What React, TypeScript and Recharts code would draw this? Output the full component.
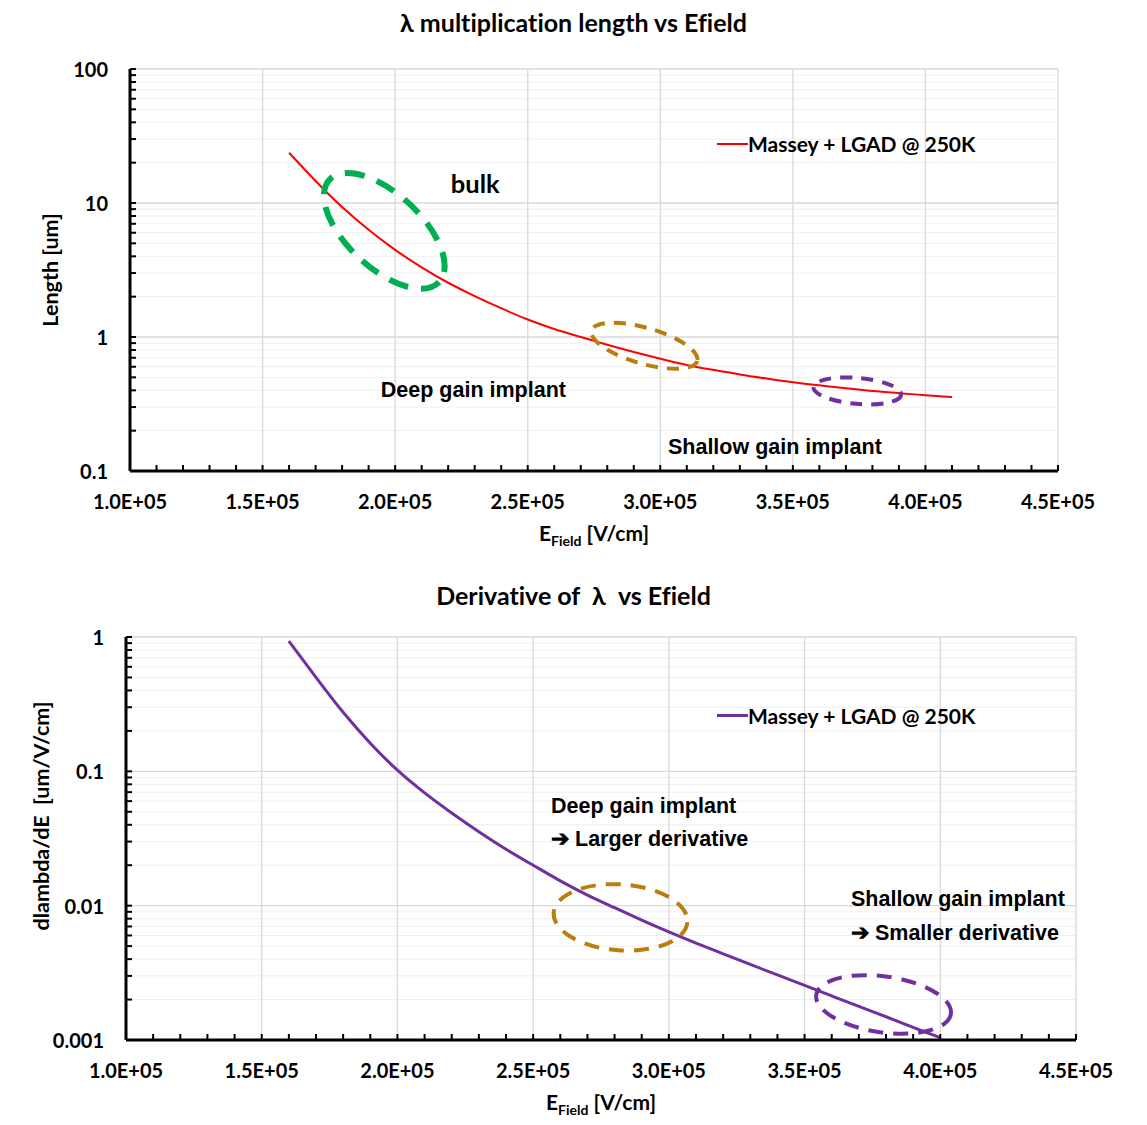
import React from "react";
import {
  LineChart,
  Line,
  XAxis,
  YAxis,
  ReferenceLine,
  ReferenceDot,
  Legend,
  Label
} from "recharts";

// E field [V/cm]
const fieldLength = [
  160000, 170000, 180000, 190000, 200000, 210000, 220000, 230000, 240000,
  250000, 260000, 270000, 280000, 290000, 300000, 310000, 320000, 330000,
  340000, 350000, 360000, 370000, 380000, 390000, 400000, 410000
];
// multiplication length [um]
const lengthUm = [
  23.7, 14.6, 9.33, 6.31, 4.47, 3.31, 2.54, 2.02, 1.64, 1.35, 1.148, 1.0,
  0.875, 0.773, 0.689, 0.619, 0.568, 0.525, 0.49, 0.46, 0.436, 0.414, 0.395,
  0.381, 0.368, 0.356
];

const fieldDeriv = [
  160000, 170000, 180000, 190000, 200000, 210000, 220000, 230000, 240000,
  250000, 260000, 270000, 280000, 290000, 300000, 310000, 320000, 330000,
  340000, 350000, 360000, 370000, 380000, 390000, 400000
];
// dlambda/dE [um/V/cm]
const derivative = [
  0.933, 0.501, 0.275, 0.162, 0.102, 0.0692, 0.049, 0.0355, 0.0263, 0.02,
  0.0153, 0.012, 0.00966, 0.0078, 0.00637, 0.00526, 0.00438, 0.00365,
  0.00305, 0.00255, 0.00213, 0.00178, 0.00149, 0.00124, 0.00104
];

const xMajorTicks = [100000, 150000, 200000, 250000, 300000, 350000, 400000, 450000];
const topDecades = [0.1, 1, 10, 100];
const bottomDecades = [0.001, 0.01, 0.1, 1];
const seriesName = "Massey + LGAD @ 250K";

const FONT = "Lato, 'Open Sans', sans-serif";
const NOTE_FONT = "'Liberation Sans', Arial, sans-serif";

const xAllTicks: number[] = [];
for (let v = 100000; v <= 450000; v += 10000) xAllTicks.push(v);

function minorValues(decades: number[]) {
  const out: number[] = [];
  decades.slice(0, -1).forEach((d) => {
    for (let k = 2; k <= 9; k++) out.push(+(k * d).toPrecision(3));
  });
  return out;
}

const topData = fieldLength.map((e, i) => ({ e, v: lengthUm[i] }));
const bottomData = fieldDeriv.map((e, i) => ({ e, v: derivative[i] }));

const isMajorX = (v: number) => v % 50000 === 0;
const isDecade = (v: number) => Math.abs(Math.log10(v) - Math.round(Math.log10(v))) < 1e-6;

const fmtE = (v: number) => (v / 100000).toFixed(1) + "E+05";

const XTick = (props: any) => {
  const { x, y, payload } = props;
  const v = payload.value;
  return (
    <g>
      <line x1={x} x2={x} y1={y} y2={y - 6} stroke="#000" strokeWidth={2} />
      {isMajorX(v) && (
        <text x={x} y={y + 30} textAnchor="middle" dominantBaseline="central"
          fontFamily={FONT} fontWeight={700} fontSize={20} fill="#000">
          {fmtE(v)}
        </text>
      )}
    </g>
  );
};

const YTick = (props: any) => {
  const { x, y, payload } = props;
  const v = payload.value;
  return (
    <g>
      <line x1={x} x2={x + 6} y1={y} y2={y} stroke="#000" strokeWidth={2} />
      {isDecade(v) && (
        <text x={x - 22} y={y} textAnchor="end" dominantBaseline="central"
          fontFamily={FONT} fontWeight={700} fontSize={20} fill="#000">
          {String(v)}
        </text>
      )}
    </g>
  );
};

const FieldLabel = (props: any) => {
  const { viewBox } = props;
  const cx = viewBox.x + viewBox.width / 2;
  const y = viewBox.y + 70;
  return (
    <text x={cx} y={y} textAnchor="middle" fontFamily={FONT} fontWeight={700} fontSize={21} fill="#000">
      E<tspan fontSize={14} dy={5}>Field</tspan>
      <tspan dy={-5}> [V/cm]</tspan>
    </text>
  );
};

const YLabel = ({ text, x, y }: { text: string; x: number; y: number }) => (
  <text x={x} y={y} transform={`rotate(-90 ${x} ${y})`} textAnchor="middle" dominantBaseline="central"
    fontFamily={FONT} fontWeight={700} fontSize={21.5} fill="#000" style={{ whiteSpace: "pre" }}>
    {text}
  </text>
);

const LegendBox = (props: any) => {
  const item = props.payload && props.payload[0];
  if (!item) return null;
  return (
    <div style={{ display: "flex", alignItems: "center", fontFamily: FONT, fontWeight: 700, fontSize: 21, whiteSpace: "nowrap" }}>
      <span style={{ display: "inline-block", width: 31, borderTop: `${item.payload.strokeWidth || 2}px solid ${item.color}` }} />
      <span>{item.value}</span>
    </div>
  );
};

// annotation ellipses and notes, placed in data units
const topRings = [
  { x: 195900, y: 6.19, rx: 75, ry: 37, angle: 43, color: "#00B050", width: 6, dash: "20 13" },
  { x: 294000, y: 0.86, rx: 55, ry: 18, angle: 16, color: "#BA7D0E", width: 4, dash: "12 9" },
  { x: 374300, y: 0.396, rx: 44, ry: 13, angle: 5, color: "#7030A0", width: 4, dash: "12 9" }
];
const topNotes = [
  { x: 221000, y: 14.2, text: "bulk", size: 25.5, font: FONT },
  { x: 194600, y: 0.403, text: "Deep gain implant", size: 21.5, font: NOTE_FONT },
  { x: 302900, y: 0.151, text: "Shallow gain implant", size: 21.5, font: NOTE_FONT }
];
const bottomRings = [
  { x: 282200, y: 0.00818, rx: 67, ry: 33, angle: 4, color: "#BA7D0E", width: 4, dash: "15 10" },
  { x: 379100, y: 0.00184, rx: 68, ry: 28, angle: 8, color: "#7030A0", width: 4, dash: "15 10" }
];
const bottomNotes = [
  { x: 256600, y: 0.0553, text: "Deep gain implant", size: 21.5, font: NOTE_FONT },
  { x: 256600, y: 0.0314, text: "\u2794 Larger derivative", size: 21.5, font: NOTE_FONT },
  { x: 367100, y: 0.01124, text: "Shallow gain implant", size: 21.5, font: NOTE_FONT },
  { x: 367100, y: 0.00628, text: "\u2794 Smaller derivative", size: 21.5, font: NOTE_FONT }
];

const renderRing = (r: any) => (p: any) => (
  <ellipse cx={p.cx} cy={p.cy} rx={r.rx} ry={r.ry} transform={`rotate(${r.angle} ${p.cx} ${p.cy})`}
    fill="none" stroke={r.color} strokeWidth={r.width} strokeDasharray={r.dash} />
);
const renderNote = (n: any) => (p: any) => (
  <text x={p.cx} y={p.cy} dominantBaseline="central" fontFamily={n.font} fontWeight={700} fontSize={n.size} fill="#000">
    {n.text}
  </text>
);

function gridLines(decades: number[], xMajors: number[]) {
  const out: React.ReactNode[] = [];
  minorValues(decades).forEach((v) =>
    out.push(<ReferenceLine key={`ym${v}`} y={v} stroke="#efefef" strokeWidth={1} />)
  );
  decades.slice(1).forEach((v) =>
    out.push(<ReferenceLine key={`yM${v}`} y={v} stroke="#d9d9d9" strokeWidth={1.3} />)
  );
  xMajors.slice(1).forEach((v) =>
    out.push(<ReferenceLine key={`xM${v}`} x={v} stroke="#d9d9d9" strokeWidth={1.3} />)
  );
  return out;
}

const titleStyle: React.CSSProperties = {
  position: "absolute",
  left: 0,
  width: 1147,
  textAlign: "center",
  fontFamily: FONT,
  fontWeight: 700,
  fontSize: 25,
  lineHeight: "30px",
  color: "#000",
  whiteSpace: "pre",
  fontVariantLigatures: "none"
};

export default function App() {
  const topTicks = [...topDecades, ...minorValues(topDecades)].sort((a, b) => a - b);
  const bottomTicks = [...bottomDecades, ...minorValues(bottomDecades)].sort((a, b) => a - b);

  return (
    <div style={{ position: "absolute", left: 0, top: 0, width: 1147, height: 1125, background: "#fff" }}>
      <div style={{ ...titleStyle, top: 7 }}>λ multiplication length vs Efield</div>
      <div style={{ position: "absolute", left: 0, top: 0 }}>
        <LineChart width={1147} height={560} data={topData} margin={{ top: 69, right: 89, bottom: 29, left: 60 }}>
          {gridLines(topDecades, xMajorTicks)}
          <XAxis dataKey="e" type="number" domain={[100000, 450000]} ticks={xAllTicks} interval={0}
            tick={<XTick />} tickSize={0} tickMargin={0} tickLine={false} height={60}
            axisLine={{ stroke: "#000", strokeWidth: 3 }} allowDataOverflow>
            <Label content={<FieldLabel />} />
          </XAxis>
          <YAxis type="number" scale="log" domain={[0.1, 100]} ticks={topTicks} interval={0}
            tick={<YTick />} tickSize={0} tickMargin={0} tickLine={false} width={70}
            axisLine={{ stroke: "#000", strokeWidth: 3 }} allowDataOverflow />
          <Line dataKey="v" name={seriesName} type="natural" stroke="#FF0000" strokeWidth={2}
            dot={false} activeDot={false} isAnimationActive={false} />
          {topRings.map((r, i) => (
            <ReferenceDot key={`r${i}`} x={r.x} y={r.y} r={1} shape={renderRing(r)} />
          ))}
          {topNotes.map((n, i) => (
            <ReferenceDot key={`n${i}`} x={n.x} y={n.y} r={1} shape={renderNote(n)} />
          ))}
          <Legend layout="horizontal" verticalAlign="middle" align="center" content={<LegendBox />}
            wrapperStyle={{ left: 717, top: 131, width: "auto", height: "auto" }} />
        </LineChart>
        <svg style={{ position: "absolute", left: 0, top: 0, pointerEvents: "none" }} width={120} height={560}>
          <YLabel text="Length [um]" x={50} y={270} />
        </svg>
      </div>

      <div style={{ ...titleStyle, top: 580 }}>{"Derivative of  λ  vs Efield"}</div>
      <div style={{ position: "absolute", left: 0, top: 560 }}>
        <LineChart width={1147} height={565} data={bottomData} margin={{ top: 77, right: 71, bottom: 25, left: 56 }}>
          {gridLines(bottomDecades, xMajorTicks)}
          <XAxis dataKey="e" type="number" domain={[100000, 450000]} ticks={xAllTicks} interval={0}
            tick={<XTick />} tickSize={0} tickMargin={0} tickLine={false} height={60}
            axisLine={{ stroke: "#000", strokeWidth: 3 }} allowDataOverflow>
            <Label content={<FieldLabel />} />
          </XAxis>
          <YAxis type="number" scale="log" domain={[0.001, 1]} ticks={bottomTicks} interval={0}
            tick={<YTick />} tickSize={0} tickMargin={0} tickLine={false} width={70}
            axisLine={{ stroke: "#000", strokeWidth: 3 }} allowDataOverflow />
          <Line dataKey="v" name={seriesName} type="natural" stroke="#7030A0" strokeWidth={3}
            dot={false} activeDot={false} isAnimationActive={false} />
          {bottomRings.map((r, i) => (
            <ReferenceDot key={`r${i}`} x={r.x} y={r.y} r={1} shape={renderRing(r)} />
          ))}
          {bottomNotes.map((n, i) => (
            <ReferenceDot key={`n${i}`} x={n.x} y={n.y} r={1} shape={renderNote(n)} />
          ))}
          <Legend layout="horizontal" verticalAlign="middle" align="center" content={<LegendBox />}
            wrapperStyle={{ left: 717, top: 143, width: "auto", height: "auto" }} />
        </LineChart>
        <svg style={{ position: "absolute", left: 0, top: 0, pointerEvents: "none" }} width={120} height={565}>
          <YLabel text={"dlambda/dE\u00a0\u00a0[um/V/cm]"} x={41} y={256} />
        </svg>
      </div>
    </div>
  );
}
